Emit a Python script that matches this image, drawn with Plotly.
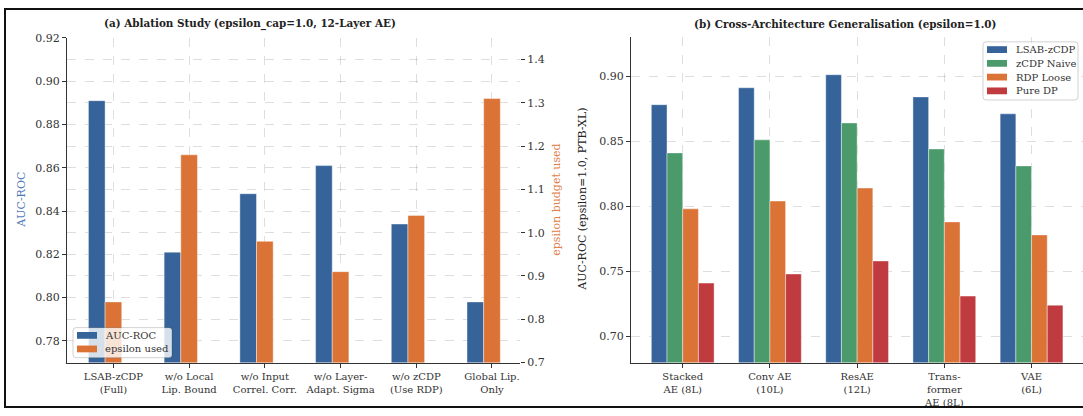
import plotly.graph_objects as go

# ---- data ----
ablation_labels = ["LSAB-zCDP<br>(Full)", "w/o Local<br>Lip. Bound", "w/o Input<br>Correl. Corr.",
                   "w/o Layer-<br>Adapt. Sigma", "w/o zCDP<br>(Use RDP)", "Global Lip.<br>Only"]
ablation_auc = [0.891, 0.821, 0.848, 0.861, 0.834, 0.798]
ablation_eps = [0.84, 1.18, 0.98, 0.91, 1.04, 1.31]

arch_labels = ["Stacked<br>AE (8L)", "Conv AE<br>(10L)", "ResAE<br>(12L)", "Trans-<br>former<br>AE (8L)", "VAE<br>(6L)"]
method_names = ["LSAB-zCDP", "zCDP Naive", "RDP Loose", "Pure DP"]
lsab_zcdp = [0.878, 0.891, 0.901, 0.884, 0.871]
zcdp_naive = [0.841, 0.851, 0.864, 0.844, 0.831]
rdp_loose = [0.798, 0.804, 0.814, 0.788, 0.778]
pure_dp = [0.741, 0.748, 0.758, 0.731, 0.724]

W, H = 1083, 416
FONT = "DejaVu Serif"
BLUE, GREEN, ORANGE, RED = "#35639a", "#4a9a6b", "#db7337", "#c03b3f"
GRID = "rgba(0,0,0,0.13)"
AX = "#333333"


def px(x):
    return x / W


def py(y):
    return (H - y) / H


fig = go.Figure()

# ---- (a) ablation: AUC on left axis, epsilon on right axis ----
bw = 0.22
xa = list(range(len(ablation_labels)))
fig.add_trace(go.Bar(x=[i - bw for i in xa], y=ablation_auc, width=bw, name="AUC-ROC",
                     marker=dict(color=BLUE, line=dict(color="rgba(255,255,255,0.7)", width=0.6)),
                     xaxis="x", yaxis="y"))
fig.add_trace(go.Bar(x=xa, y=ablation_eps, width=bw, name="epsilon used",
                     marker=dict(color=ORANGE, line=dict(color="rgba(255,255,255,0.7)", width=0.6)),
                     xaxis="x", yaxis="y2"))

# ---- (b) cross-architecture ----
bw2 = 0.18
xb = list(range(len(arch_labels)))
series = [lsab_zcdp, zcdp_naive, rdp_loose, pure_dp]
colors = [BLUE, GREEN, ORANGE, RED]
offsets = [-1.5, -0.5, 0.5, 1.5]
for name, vals, col, off in zip(method_names, series, colors, offsets):
    fig.add_trace(go.Bar(x=[i + off * bw2 for i in xb], y=vals, width=bw2, name=name,
                         marker=dict(color=col, line=dict(color="rgba(255,255,255,0.7)", width=0.6)),
                         xaxis="x2", yaxis="y3"))

tickfont = dict(family=FONT, size=11, color=AX)
common_grid = dict(showgrid=True, gridcolor=GRID, griddash="dash", gridwidth=0.8, zeroline=False)

fig.update_layout(
    width=W, height=H,
    margin=dict(l=0, r=0, t=0, b=0),
    paper_bgcolor="white", plot_bgcolor="white",
    barmode="overlay",
    showlegend=False,
    font=dict(family=FONT, size=11, color=AX),
    xaxis=dict(domain=[px(67), px(520)], range=[-0.613, 5.37], anchor="y",
               tickvals=xa, ticktext=ablation_labels, tickfont=dict(family=FONT, size=10, color=AX),
               ticks="outside", ticklen=4, tickcolor=AX, showline=True, linecolor=AX, linewidth=1,
               **common_grid),
    yaxis=dict(domain=[py(368), py(33)], range=[0.77, 0.92], anchor="x",
               tickvals=[0.78, 0.80, 0.82, 0.84, 0.86, 0.88, 0.90, 0.92], tickformat=".2f",
               tickfont=tickfont, ticks="outside", ticklen=4, tickcolor=AX,
               showline=True, linecolor=AX, linewidth=1, **common_grid),
    yaxis2=dict(overlaying="y", side="right", anchor="x", range=[0.7, 1.45],
                tickvals=[0.7, 0.8, 0.9, 1.0, 1.1, 1.2, 1.3, 1.4], tickformat=".1f",
                tickfont=tickfont, ticks="outside", ticklen=4, tickcolor=AX,
                showline=False, **common_grid),
    xaxis2=dict(domain=[px(631), 1.0], range=[-0.593, 4.59], anchor="y3",
                tickvals=xb, ticktext=arch_labels, tickfont=dict(family=FONT, size=10, color=AX),
                ticks="outside", ticklen=4, tickcolor=AX, showline=True, linecolor=AX, linewidth=1,
                **common_grid),
    yaxis3=dict(domain=[py(368), py(32)], range=[0.68, 0.93], anchor="x2",
                tickvals=[0.70, 0.75, 0.80, 0.85, 0.90], tickformat=".2f",
                tickfont=tickfont, ticks="outside", ticklen=4, tickcolor=AX,
                showline=True, linecolor=AX, linewidth=1, **common_grid),
)

annotations = [
    dict(text="<b>(a) Ablation Study (epsilon_cap=1.0, 12-Layer AE)</b>", x=px(250), y=py(19),
         font=dict(family=FONT, size=10.4, color="#222"), xanchor="center"),
    dict(text="<b>(b) Cross-Architecture Generalisation (epsilon=1.0)</b>", x=px(845), y=py(19),
         font=dict(family=FONT, size=10.4, color="#222"), xanchor="center"),
    dict(text="AUC-ROC", x=px(22), y=py(200), textangle=-90, xanchor="center",
         font=dict(family=FONT, size=11, color="#4f78b8")),
    dict(text="epsilon budget used", x=px(557), y=py(200), textangle=-90, xanchor="center",
         font=dict(family=FONT, size=11, color="#e0804a")),
    dict(text="AUC-ROC (epsilon=1.0, PTB-XL)", x=px(583), y=py(200), textangle=-90, xanchor="center",
         font=dict(family=FONT, size=11, color="#222")),
]

shapes = []


def rounded_box(x0, y0, x1, y1, r=3):
    # rounded rectangle in pixel units, converted to paper coordinates
    rx, ry = r / W, r / H
    X0, X1, Y0, Y1 = px(x0), px(x1), py(y1), py(y0)
    path = (f"M {X0 + rx},{Y0} L {X1 - rx},{Y0} Q {X1},{Y0} {X1},{Y0 + ry} "
            f"L {X1},{Y1 - ry} Q {X1},{Y1} {X1 - rx},{Y1} L {X0 + rx},{Y1} "
            f"Q {X0},{Y1} {X0},{Y1 - ry} L {X0},{Y0 + ry} Q {X0},{Y0} {X0 + rx},{Y0} Z")
    return dict(type="path", path=path, xref="paper", yref="paper",
                fillcolor="rgba(255,255,255,0.8)", line=dict(color="rgba(0,0,0,0.18)", width=1),
                layer="above")


def legend_block(x0, y0, x1, y1, entries, row0, step, sym_x0, text_x):
    shapes.append(rounded_box(x0, y0, x1, y1))
    for k, (label, col) in enumerate(entries):
        yc = row0 + k * step
        shapes.append(dict(type="rect", xref="paper", yref="paper",
                           x0=px(sym_x0), x1=px(sym_x0 + 20), y0=py(yc + 3.5), y1=py(yc - 3.5),
                           fillcolor=col, line=dict(width=0), layer="above"))
        annotations.append(dict(text=label, x=px(text_x), y=py(yc), xanchor="left",
                                font=dict(family=FONT, size=10, color=AX)))


legend_block(73, 332, 172, 363, [("AUC-ROC", BLUE), ("epsilon used", ORANGE)],
             row0=340, step=14, sym_x0=77, text_x=103)
legend_block(983, 37, 1078, 97, list(zip(method_names, colors)),
             row0=45, step=14.2, sym_x0=987, text_x=1014)

for a in annotations:
    a.update(xref="paper", yref="paper", showarrow=False, yanchor="middle")

# figure frame
shapes.append(dict(type="rect", xref="paper", yref="paper", x0=px(5), x1=1.02, y0=py(414), y1=py(3),
                   line=dict(color="#111", width=2), fillcolor="rgba(0,0,0,0)", layer="above"))

fig.update_layout(annotations=annotations, shapes=shapes)

fig.write_html("out.html")
